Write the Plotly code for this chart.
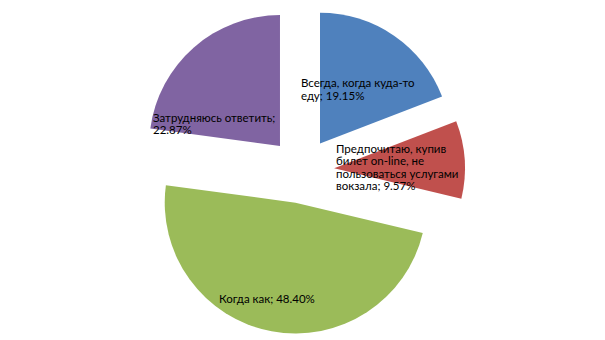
import plotly.graph_objects as go

labels = ["Всегда, когда куда-то еду",
          "Предпочитаю, купив билет on-line, не пользоваться услугами вокзала",
          "Когда как",
          "Затрудняюсь ответить"]
values = [19.15, 9.57, 48.40, 22.87]
colors = ["#4F81BD", "#C0504D", "#9BBB59", "#8064A2"]
# wrapped label text (line breaks as in the original)
label_lines = [["Всегда, когда куда-то", "еду"],
               ["Предпочитаю, купив", "билет on-line, не", "пользоваться услугами", "вокзала"],
               ["Когда как"],
               ["Затрудняюсь ответить;", ""]]
label_left = [299, 334, 217, 151]        # px, left edge of the label block
label_first_y = [82, 148, 298, 117]       # px, centre of first line
line_step = [13, 12.6, 12.6, 12.3]        # px between lines

W, H = 605, 340

fig = go.Figure(go.Pie(
    labels=labels, values=values, sort=False, direction="clockwise", rotation=0,
    marker=dict(colors=colors, line=dict(width=0)),
    pull=[0.25] * 4, textinfo="none", hoverinfo="label+percent",
    domain=dict(x=[0, 603 / W], y=[6 / H, 333 / H]),
    showlegend=False,
))

for lines, v, px, py0, dy in zip(label_lines, values, label_left, label_first_y, line_step):
    if lines[-1] == "":
        rows = lines[:-1] + [f"{v:.2f}%"]
    else:
        rows = lines[:-1] + [lines[-1] + f"; {v:.2f}%"]
    for i, row in enumerate(rows):
        fig.add_annotation(x=px / W, y=1 - (py0 + i * dy) / H, xref="paper", yref="paper",
                           xanchor="left", yanchor="middle", align="left",
                           text=row, showarrow=False,
                           font=dict(family="Lato, Carlito, sans-serif", size=11.5, color="#000"))

fig.update_layout(width=W, height=H, margin=dict(l=0, r=0, t=0, b=0),
                  paper_bgcolor="white", plot_bgcolor="white")
fig.write_html("out.html")
